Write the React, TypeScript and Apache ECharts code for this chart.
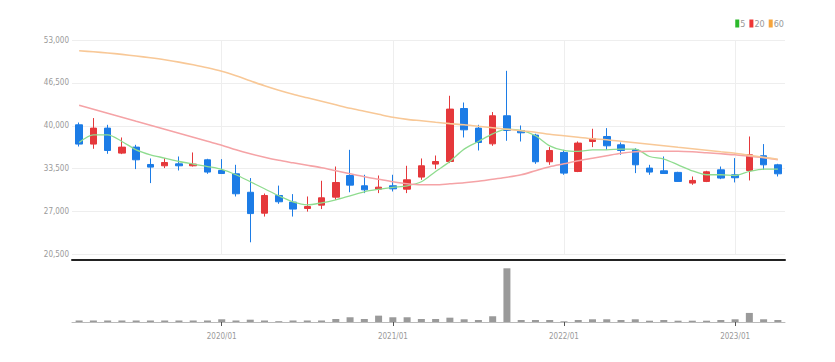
import React, { useEffect, useRef } from 'react';
import * as echarts from 'echarts';

const months = [
  '2019/03','2019/04','2019/05','2019/06','2019/07','2019/08','2019/09','2019/10','2019/11','2019/12',
  '2020/01','2020/02','2020/03','2020/04','2020/05','2020/06','2020/07','2020/08','2020/09','2020/10','2020/11','2020/12',
  '2021/01','2021/02','2021/03','2021/04','2021/05','2021/06','2021/07','2021/08','2021/09','2021/10','2021/11','2021/12',
  '2022/01','2022/02','2022/03','2022/04','2022/05','2022/06','2022/07','2022/08','2022/09','2022/10','2022/11','2022/12',
  '2023/01','2023/02','2023/03','2023/04',
];

// [open, close, low, high]
const ohlc: number[][] = [
  [40150, 37230, 36860, 40500], [37230, 39650, 36520, 41170], [39650, 36260, 35760, 40150], [35860, 36770, 35710, 38230],
  [36770, 34850, 33440, 37120], [34140, 33740, 31320, 35050], [33940, 34440, 33590, 35100], [34240, 33940, 33230, 35350],
  [33940, 34200, 33830, 35960], [34850, 32990, 32730, 35000], [33230, 32770, 32730, 34950], [32730, 29700, 29290, 34090],
  [29930, 26700, 22350, 32080], [26760, 29440, 26250, 29740], [29440, 28490, 28180, 30940], [28440, 27380, 26250, 29650],
  [27470, 27770, 27000, 29290], [27980, 29090, 27380, 31670], [29190, 31410, 28790, 33830], [32470, 31010, 29930, 36360],
  [30910, 30300, 29800, 32580], [30400, 30700, 29800, 32470], [30910, 30450, 30050, 32580], [30400, 31820, 29800, 33940],
  [32230, 33940, 31820, 35050], [34200, 34590, 33440, 35500], [34590, 42530, 34350, 44550], [42620, 39390, 38230, 43530],
  [39650, 37470, 36260, 40150], [37270, 41520, 36970, 42080], [41520, 39290, 37730, 48330], [39290, 38940, 37620, 40050],
  [38590, 34550, 34240, 38790], [34550, 36260, 34090, 36770], [35960, 32830, 32580, 36360], [33080, 37380, 32980, 37630],
  [37620, 38080, 36770, 39550], [38380, 36970, 36360, 39650], [37120, 36260, 35610, 37470], [36360, 34090, 32830, 36610],
  [33590, 32990, 32580, 34090], [33180, 32770, 32730, 35350], [32940, 31570, 31520, 33030], [31320, 31720, 31060, 32320],
  [31570, 33030, 31470, 33180], [33330, 32080, 31920, 33830], [32580, 32130, 31420, 35100], [33230, 35610, 31720, 38380],
  [35460, 34090, 33330, 37230], [34090, 32730, 32320, 34240],
];

const ma5 = [
  37470, 38640, 38640, 37620, 36360, 35610, 35110, 34590, 34200, 33830,
  33410, 32580, 31520, 30460, 29400, 28490, 28030, 28330, 28790, 29400,
  30000, 30380, 30680, 30910, 31520, 33080, 34590, 36470, 37620, 38790,
  39500, 39290, 38490, 36970, 36260, 36110, 36360, 36360, 36470, 36470,
  35350, 34950, 34090, 33180, 32580, 32580, 32470, 33080, 33440, 33440,
];

const ma20 = [
  43110, 42500, 41890, 41290, 40680, 40080, 39470, 38860, 38260, 37650,
  37050, 36360, 35760, 35230, 34770, 34390, 34020, 33640, 33190, 32730,
  32280, 31900, 31520, 31210, 31060, 31060, 31210, 31360, 31590, 31900,
  32200, 32580, 33190, 33790, 34240, 34700, 35080, 35460, 35830, 36060,
  36140, 36140, 36140, 36060, 35910, 35760, 35610, 35380, 35150, 34850,
];

const ma60 = [
  51360, 51210, 51030, 50820, 50570, 50300, 50000, 49650, 49240, 48790,
  48260, 47580, 46820, 46060, 45380, 44770, 44240, 43710, 43180, 42650,
  42200, 41740, 41290, 40980, 40760, 40530, 40330, 40150, 39920, 39700,
  39470, 39240, 39020, 38710, 38490, 38260, 38030, 37880, 37650, 37430,
  37200, 36970, 36740, 36520, 36290, 36060, 35840, 35530, 35230, 34920,
];

const volume = [
  150000, 150000, 150000, 150000, 150000, 150000, 150000, 150000, 150000, 150000,
  270000, 150000, 230000, 150000, 80000, 150000, 150000, 150000, 300000, 470000,
  300000, 630000, 470000, 470000, 300000, 300000, 430000, 270000, 200000, 570000,
  5330000, 200000, 200000, 200000, 70000, 200000, 270000, 270000, 200000, 270000,
  130000, 200000, 130000, 130000, 130000, 200000, 270000, 900000, 270000, 200000,
];

const yTicks = [20500, 27000, 33500, 40000, 46500, 53000];
const legendNames = ['5', '20', '60'];

const FONT = '"DejaVu Sans Condensed", "Liberation Sans Narrow", "Roboto Condensed", "Liberation Sans", sans-serif';
const UP = '#e5383b';
const DOWN = '#1c7ce6';
const isJan = (_i: number, v: string) => typeof v === 'string' && v.endsWith('/01');
const janIdx = (i: number) => months[i].endsWith('/01');

export default function App() {
  const ref = useRef<HTMLDivElement>(null);
  useEffect(() => {
    document.body.style.margin = '0';
    const chart = echarts.init(ref.current!, undefined, { renderer: 'svg' });
    chart.setOption({
      animation: false,
      backgroundColor: '#fff',
      legend: {
        data: [
          { name: legendNames[0], itemStyle: { color: '#2cb92c' } },
          { name: legendNames[1], itemStyle: { color: '#ee3535' } },
          { name: legendNames[2], itemStyle: { color: '#f5a43c' } },
        ],
        right: 51,
        top: 19,
        icon: 'rect',
        itemWidth: 4,
        itemHeight: 8,
        itemGap: 4,
        padding: 0,
        textStyle: { fontSize: 9, color: '#999', fontFamily: FONT, padding: [0, 0, 0, -4] },
      },
      grid: [
        { left: 72, right: 50, top: 40, height: 214.5 },
        { left: 72, right: 50, top: 268.3, height: 53.7 },
      ],
      xAxis: [
        {
          type: 'category',
          gridIndex: 0,
          data: months,
          boundaryGap: true,
          offset: 5,
          axisLine: { lineStyle: { color: '#222', width: 2 } },
          axisTick: { show: false },
          axisLabel: { show: false },
          splitLine: { show: true, interval: (i: number) => janIdx(i), alignWithLabel: true, lineStyle: { color: '#eee', width: 1 } },
        },
        {
          type: 'category',
          gridIndex: 1,
          data: months,
          boundaryGap: true,
          axisLine: { lineStyle: { color: '#bbb', width: 1 } },
          axisTick: { show: true, interval: (i: number) => janIdx(i), alignWithLabel: true, length: 4, lineStyle: { color: '#555' } },
          axisLabel: { interval: isJan, fontSize: 8, color: '#999', margin: 10, fontFamily: FONT },
          splitLine: { show: false },
        },
      ],
      yAxis: [
        {
          type: 'value',
          gridIndex: 0,
          min: 20500,
          max: 53000,
          axisLine: { show: false },
          axisTick: { show: false, customValues: yTicks },
          axisLabel: {
            customValues: yTicks,
            fontSize: 8,
            color: '#999',
            margin: 3,
            fontFamily: FONT,
            formatter: (v: number) => v.toLocaleString('en-US'),
          },
          splitLine: { show: true, lineStyle: { color: '#eee' } },
        },
        {
          type: 'value',
          gridIndex: 1,
          min: 0,
          max: 'dataMax',
          show: false,
          splitLine: { show: false },
        },
      ],
      series: [
        {
          type: 'candlestick',
          name: 'price',
          xAxisIndex: 0,
          yAxisIndex: 0,
          data: ohlc,
          barWidth: 7,
          itemStyle: { color: UP, color0: DOWN, borderColor: UP, borderColor0: DOWN, borderWidth: 1 },
        },
        {
          type: 'line', name: legendNames[0], data: ma5, xAxisIndex: 0, yAxisIndex: 0,
          showSymbol: false, smooth: 0.3,
          itemStyle: { color: '#2cb92c' },
          lineStyle: { color: '#8fdc8f', width: 1.3 },
        },
        {
          type: 'line', name: legendNames[1], data: ma20, xAxisIndex: 0, yAxisIndex: 0,
          showSymbol: false, smooth: 0.3,
          itemStyle: { color: '#ee3535' },
          lineStyle: { color: '#f5a3a6', width: 1.6 },
        },
        {
          type: 'line', name: legendNames[2], data: ma60, xAxisIndex: 0, yAxisIndex: 0,
          showSymbol: false, smooth: 0.3,
          itemStyle: { color: '#f5a43c' },
          lineStyle: { color: '#f8c897', width: 1.6 },
        },
        {
          type: 'bar', name: 'volume', data: volume, xAxisIndex: 1, yAxisIndex: 1,
          barWidth: 7,
          itemStyle: { color: '#9a9a9a' },
        },
      ],
    });
    return () => chart.dispose();
  }, []);
  return <div ref={ref} style={{ position: 'fixed', left: 0, top: 0, width: 835, height: 362 }} />;
}
